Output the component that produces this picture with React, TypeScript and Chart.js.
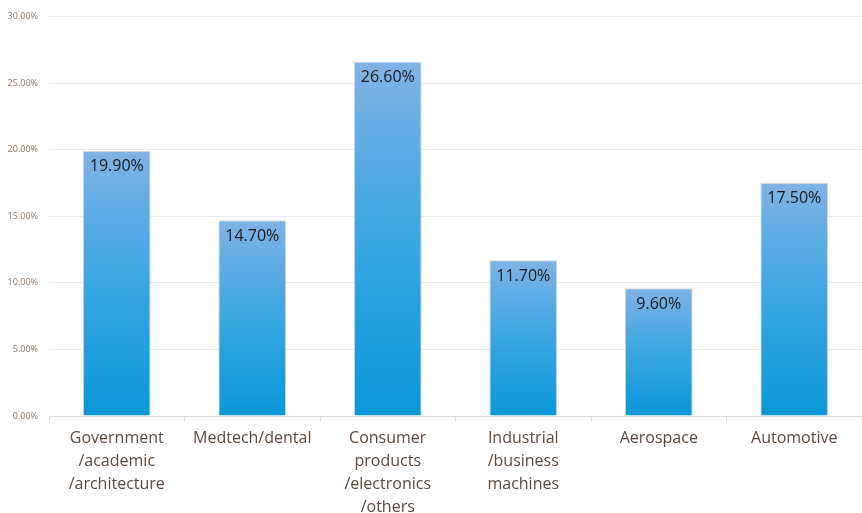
import React, { useEffect, useRef } from "react";
import { Chart, registerables } from "chart.js";

Chart.register(...registerables);

const categories: string[][] = [
  ["Government", "/academic", "/architecture"],
  ["Medtech/dental"],
  ["Consumer", "products", "/electronics", "/others"],
  ["Industrial", "/business", "machines"],
  ["Aerospace"],
  ["Automotive"],
];
const shares: number[] = [19.9, 14.7, 26.6, 11.7, 9.6, 17.5];
const yTicks: number[] = [0, 5, 10, 15, 20, 25, 30];

const FONT = "'Open Sans', 'Noto Sans', sans-serif";

const valueLabels = {
  id: "valueLabels",
  afterDatasetsDraw(chart: any) {
    const ctx = chart.ctx;
    const meta = chart.getDatasetMeta(0);
    ctx.save();
    ctx.font = `16px ${FONT}`;
    ctx.fillStyle = "#1a1a1a";
    ctx.textAlign = "center";
    ctx.textBaseline = "middle";
    meta.data.forEach((bar: any, i: number) => {
      ctx.fillText(shares[i].toFixed(2) + "%", bar.x, bar.y + 16);
    });
    ctx.restore();
  },
};

export default function App() {
  const ref = useRef<HTMLCanvasElement | null>(null);
  useEffect(() => {
    if (!ref.current) return;
    const chart = new Chart(ref.current, {
      type: "bar",
      data: {
        labels: categories,
        datasets: [
          {
            data: shares,
            barPercentage: 0.5,
            categoryPercentage: 1,
            borderWidth: 1,
            borderColor: "rgba(205,210,216,0.9)",
            backgroundColor: (c: any) => {
              const chart = c.chart;
              const area = chart.chartArea;
              const ys = chart.scales?.y;
              if (!area || !ys || c.raw == null) return "#4aa3e0";
              const top = ys.getPixelForValue(c.raw);
              const g = chart.ctx.createLinearGradient(0, area.bottom, 0, top);
              g.addColorStop(0, "#0b97d8");
              g.addColorStop(0.5, "#3aa6e2");
              g.addColorStop(1, "#80b2e5");
              return g;
            },
          },
        ],
      },
      options: {
        responsive: false,
        animation: false,
        layout: { padding: { top: 12, right: 0, left: 0, bottom: 0 } },
        plugins: { legend: { display: false }, tooltip: { enabled: false } },
        scales: {
          x: {
            offset: true,
            afterFit: (s: any) => {
              s.height = 97;
            },
            grid: {
              offset: true,
              drawOnChartArea: false,
              drawTicks: true,
              tickLength: 6,
              color: "#d9d9d9",
            },
            border: { display: true, color: "#d9d9d9" },
            ticks: {
              color: "#5b4a40",
              font: { family: FONT, size: 16, lineHeight: 1.44 },
              maxRotation: 0,
              autoSkip: false,
              padding: 5,
            },
          },
          y: {
            min: 0,
            max: 30,
            afterFit: (s: any) => {
              s.width = 49;
            },
            afterBuildTicks: (s: any) => {
              s.ticks = yTicks.map((v) => ({ value: v }));
            },
            grid: { color: "#ebebeb", drawTicks: false },
            border: { display: false },
            ticks: {
              color: "#8b7565",
              font: { family: FONT, size: 9 },
              padding: 11,
              callback: (v: any) => Number(v).toFixed(2) + "%",
            },
          },
        },
      },
      plugins: [valueLabels],
    });
    return () => chart.destroy();
  }, []);
  return (
    <div style={{ position: "absolute", left: 0, top: 0, width: 862, height: 513, background: "#fff" }}>
      <canvas ref={ref} width={862} height={513} />
    </div>
  );
}
